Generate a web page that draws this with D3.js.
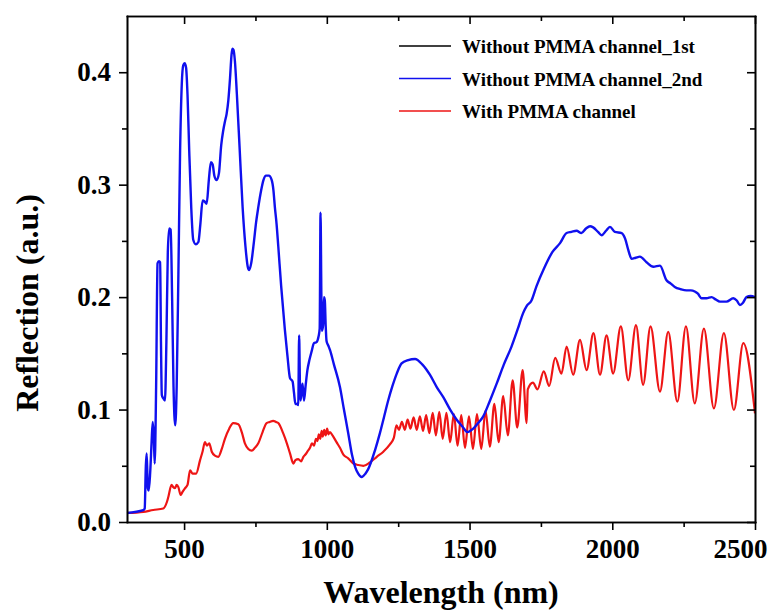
<!DOCTYPE html>
<meta charset="utf-8">

<style type="text/css">
  body {
    margin: 0;
    background: #fff;
  }

  text {
    font-family: "Liberation Serif", "Times New Roman", serif;
    font-weight: bold;
    fill: #000;
  }

  .axis path,
  .axis line {
    stroke: #000;
    stroke-width: 1.6px;
  }
</style>

<body>
  <svg id="chart" width="768" height="610"></svg>
</body>

<script src="https://d3js.org/d3.v7.min.js"></script>
<script>
  // wavelength (nm) / reflection
  var blueWave = [300, 357, 362, 366, 369, 373, 376, 381, 386, 390, 394, 397, 402, 407, 412, 416, 419, 422, 427, 433,
    438, 443, 448, 453, 458, 463, 469, 474, 480, 486, 492, 497, 502, 507, 512, 518, 525, 532, 541, 550,
    557, 565, 572, 579, 587, 594, 600, 606, 614, 622, 630, 637, 643, 649, 655, 661, 666, 669, 673, 678,
    685, 695, 705, 715, 723, 728, 735, 745, 752, 760, 770, 778, 787, 797, 807, 813, 818, 824, 830, 840,
    853, 862, 871, 880, 885, 890, 896, 900, 903, 906, 908, 912, 915, 920, 926, 932, 939, 947, 955, 964,
    971, 975, 978, 981, 983, 987, 990, 993, 996, 999, 1005, 1011, 1025, 1046, 1060, 1075, 1088, 1099, 1110, 1122,
    1135, 1145, 1169, 1186, 1200, 1215, 1230, 1245, 1262, 1285, 1309, 1335, 1361, 1385, 1408, 1432, 1455, 1475, 1492, 1513,
    1530, 1548, 1570, 1595, 1620, 1647, 1668, 1688, 1700, 1717, 1735, 1760, 1790, 1817, 1840, 1857, 1875, 1892, 1908, 1922,
    1933, 1950, 1963, 1978, 1992, 2009, 2033, 2045, 2056, 2068, 2082, 2097, 2120, 2144, 2167, 2190, 2205, 2219, 2240, 2260,
    2275, 2289, 2300, 2313, 2330, 2348, 2362, 2377, 2400, 2424, 2436, 2447, 2458, 2470, 2485, 2500];
  var blueRefl = [0.008, 0.0105, 0.012, 0.05, 0.061, 0.03, 0.028, 0.043, 0.07, 0.089, 0.075, 0.052, 0.12, 0.23, 0.232, 0.231, 0.16, 0.113, 0.11, 0.108,
    0.16, 0.24, 0.261, 0.26, 0.2, 0.12, 0.086, 0.12, 0.22, 0.33, 0.39, 0.406, 0.408, 0.404, 0.38, 0.33, 0.28, 0.251, 0.247, 0.249,
    0.265, 0.286, 0.285, 0.283, 0.305, 0.32, 0.318, 0.308, 0.304, 0.31, 0.335, 0.348, 0.356, 0.363, 0.375, 0.395, 0.415, 0.421, 0.42, 0.41,
    0.38, 0.33, 0.28, 0.245, 0.227, 0.224, 0.23, 0.25, 0.266, 0.28, 0.295, 0.304, 0.308, 0.308, 0.304, 0.295, 0.28, 0.265, 0.245, 0.21,
    0.171, 0.148, 0.128, 0.125, 0.115, 0.105, 0.105, 0.104, 0.166, 0.12, 0.108, 0.118, 0.123, 0.108, 0.122, 0.135, 0.144, 0.152, 0.159, 0.16,
    0.165, 0.172, 0.275, 0.2, 0.17, 0.175, 0.2, 0.197, 0.175, 0.161, 0.157, 0.153, 0.14, 0.12, 0.1, 0.079, 0.06, 0.049, 0.043, 0.04,
    0.043, 0.047, 0.064, 0.079, 0.093, 0.108, 0.121, 0.132, 0.141, 0.144, 0.145, 0.14, 0.131, 0.12, 0.111, 0.1, 0.091, 0.085, 0.08, 0.083,
    0.088, 0.094, 0.107, 0.123, 0.14, 0.156, 0.171, 0.186, 0.192, 0.197, 0.21, 0.225, 0.24, 0.248, 0.257, 0.258, 0.259, 0.257, 0.261, 0.263,
    0.262, 0.258, 0.255, 0.259, 0.2625, 0.258, 0.257, 0.252, 0.242, 0.234, 0.235, 0.236, 0.231, 0.227, 0.228, 0.215, 0.212, 0.209, 0.207, 0.206,
    0.206, 0.205, 0.203, 0.199, 0.199, 0.2, 0.198, 0.196, 0.196, 0.199, 0.197, 0.193, 0.195, 0.2, 0.201, 0.2];

  var redWave = [300, 357, 392, 427, 440, 445, 456, 462, 468, 474, 480, 488, 495, 503, 512, 521, 530, 542, 556, 565,
    573, 580, 588, 597, 608, 620, 632, 643, 658, 672, 690, 702, 713, 725, 737, 748, 760, 775, 789, 800,
    812, 822, 830, 847, 860, 871, 883, 890, 900, 910, 918, 925, 933, 941, 948, 955, 962, 967, 972, 977,
    982, 986, 991, 996, 1001, 1006, 1011, 1020, 1034, 1046, 1058, 1075, 1093, 1110, 1128, 1151, 1175, 1198, 1221, 1235,
    1244, 1253, 1263, 1273, 1283, 1293, 1304, 1315, 1326, 1337, 1348, 1359, 1371, 1382, 1394, 1406, 1419, 1432, 1445, 1458,
    1471, 1484, 1498, 1512, 1526, 1541, 1556, 1571, 1587, 1602, 1618, 1634, 1651, 1667, 1686, 1700, 1704, 1722, 1738, 1760,
    1779, 1800, 1822, 1840, 1863, 1887, 1910, 1934, 1957, 1980, 2003, 2030, 2056, 2083, 2108, 2134, 2167, 2196, 2228, 2258,
    2289, 2321, 2356, 2391, 2426, 2459, 2500];
  var redRefl = [0.008, 0.009, 0.0107, 0.012, 0.018, 0.0225, 0.033, 0.031, 0.03, 0.033, 0.031, 0.024, 0.027, 0.03, 0.033, 0.046, 0.043, 0.043, 0.055, 0.063,
    0.071, 0.068, 0.07, 0.0625, 0.059, 0.058, 0.065, 0.074, 0.083, 0.088, 0.087, 0.08, 0.07, 0.065, 0.0634, 0.066, 0.07, 0.08, 0.088, 0.089,
    0.09, 0.089, 0.088, 0.079, 0.07, 0.061, 0.052, 0.055, 0.056, 0.054, 0.058, 0.06, 0.063, 0.066, 0.07, 0.068, 0.074, 0.072, 0.078, 0.074,
    0.081, 0.076, 0.082, 0.077, 0.083, 0.078, 0.08, 0.077, 0.071, 0.066, 0.06, 0.0566, 0.052, 0.0507, 0.05, 0.053, 0.058, 0.0625, 0.069, 0.075,
    0.086, 0.082, 0.089, 0.082, 0.091, 0.083, 0.093, 0.082, 0.094, 0.081, 0.095, 0.079, 0.097, 0.077, 0.098, 0.074, 0.097, 0.071, 0.096, 0.068,
    0.095, 0.066, 0.094, 0.065, 0.096, 0.065, 0.099, 0.067, 0.105, 0.071, 0.112, 0.077, 0.126, 0.084, 0.135, 0.088, 0.118, 0.124, 0.118, 0.134,
    0.121, 0.146, 0.132, 0.156, 0.131, 0.162, 0.135, 0.168, 0.131, 0.166, 0.132, 0.174, 0.126, 0.175, 0.122, 0.174, 0.116, 0.169, 0.107, 0.174,
    0.1055, 0.172, 0.101, 0.168, 0.0996, 0.159, 0.0966];

  var xTicks = [500, 1000, 1500, 2000, 2500];
  var xMinor = [750, 1250, 1750, 2250];
  var yTicks = [0, 0.1, 0.2, 0.3, 0.4];
  var yMinor = [0.05, 0.15, 0.25, 0.35];
  var legendNames = ["Without PMMA channel_1st", "Without PMMA channel_2nd", "With PMMA channel"];

  var colors = ["#000000", "#1010ee", "#ee1515"];

  var margin = { top: 16, right: 13, bottom: 88, left: 127 },
    width = 768 - margin.left - margin.right,
    height = 610 - margin.top - margin.bottom;

  var x = d3.scaleLinear().domain([300, 2500]).range([0, width]),
    y = d3.scaleLinear().domain([0, 0.45]).range([height, 0]);

  var svg = d3.select("#chart");
  var g = svg.append("g")
    .attr("transform", "translate(" + margin.left + "," + margin.top + ")");

  function zip(w, r) {
    return w.map(function(d, i) {
      return { w: d, r: r[i] };
    });
  }

  var line = d3.line()
    .curve(d3.curveMonotoneX)
    .x(function(d) { return x(d.w); })
    .y(function(d) { return y(d.r); });

  g.append("path")
    .datum(zip(redWave, redRefl))
    .attr("fill", "none")
    .attr("stroke", colors[2])
    .attr("stroke-width", 2.2)
    .attr("d", line);

  g.append("path")
    .datum(zip(blueWave, blueRefl))
    .attr("fill", "none")
    .attr("stroke", colors[1])
    .attr("stroke-width", 2.4)
    .attr("stroke-linejoin", "round")
    .attr("d", line);

  // axes: major + minor, outer ticks on bottom/left, inner ticks on top/right
  var xLabels = g.append("g").attr("class", "axis")
    .attr("transform", "translate(0," + height + ")")
    .call(d3.axisBottom(x).tickValues(xTicks).tickSize(8).tickSizeOuter(0).tickPadding(9).tickFormat(d3.format("d")))
    .selectAll("text").style("font-size", "27px");
  // last label is pulled in so it stays inside the page
  xLabels.filter(function(d) { return d === 2500; })
    .attr("x", -15);
  g.append("g").attr("class", "axis")
    .attr("transform", "translate(0," + height + ")")
    .call(d3.axisBottom(x).tickValues(xMinor).tickSize(5).tickSizeOuter(0).tickFormat(""));

  g.append("g").attr("class", "axis")
    .call(d3.axisLeft(y).tickValues(yTicks).tickSize(8).tickSizeOuter(0).tickPadding(8).tickFormat(d3.format(".1f")))
    .selectAll("text").style("font-size", "27px");
  g.append("g").attr("class", "axis")
    .call(d3.axisLeft(y).tickValues(yMinor).tickSize(5).tickSizeOuter(0).tickFormat(""));

  g.append("g").attr("class", "axis")
    .call(d3.axisTop(x).tickValues(xTicks).tickSize(-8).tickSizeOuter(0).tickFormat(""));
  g.append("g").attr("class", "axis")
    .call(d3.axisTop(x).tickValues(xMinor).tickSize(-5).tickSizeOuter(0).tickFormat(""));

  g.append("g").attr("class", "axis")
    .attr("transform", "translate(" + width + ",0)")
    .call(d3.axisRight(y).tickValues(yTicks).tickSize(-8).tickSizeOuter(0).tickFormat(""));
  g.append("g").attr("class", "axis")
    .attr("transform", "translate(" + width + ",0)")
    .call(d3.axisRight(y).tickValues(yMinor).tickSize(-5).tickSizeOuter(0).tickFormat(""));

  g.selectAll(".axis .domain").attr("stroke-linecap", "square");

  // axis titles
  svg.append("text")
    .attr("x", margin.left + width / 2)
    .attr("y", 603)
    .style("text-anchor", "middle")
    .style("font-size", "32px")
    .text("Wavelength (nm)");

  svg.append("text")
    .attr("transform", "translate(38," + 303 + ")rotate(-90)")
    .style("text-anchor", "middle")
    .style("font-size", "32px")
    .text("Reflection (a.u.)");

  // legend
  var legend = svg.append("g")
    .selectAll("g")
    .data(legendNames)
    .enter().append("g")
    .attr("transform", function(d, i) {
      return "translate(399," + (47 + i * 32.5) + ")";
    });

  legend.append("line")
    .attr("x1", 0)
    .attr("x2", 52)
    .attr("y1", -1)
    .attr("y2", -1)
    .attr("stroke", function(d, i) { return colors[i]; })
    .attr("stroke-width", 1.5);

  legend.append("text")
    .attr("x", 63)
    .attr("dy", "0.33em")
    .style("font-size", "19px")
    .text(function(d) { return d; });
</script>
